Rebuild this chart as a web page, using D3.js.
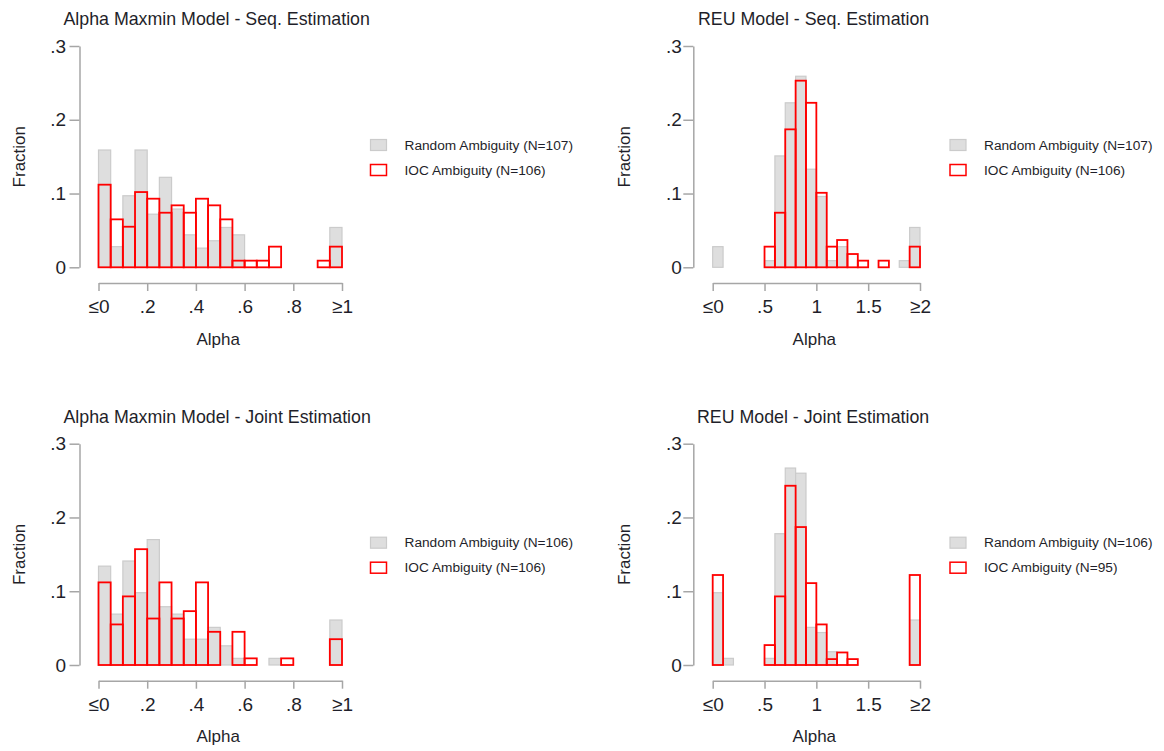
<!DOCTYPE html>
<html>
<head>
<meta charset="utf-8">
<script src="https://cdn.jsdelivr.net/npm/d3@7"></script>
<style>
  body { margin: 0; background: #fff; }
  text { font-family: "Liberation Sans", Arial, sans-serif; fill: #1f1f2a; }
  .axis path, .axis line { stroke: #a6a6a6; stroke-width: 1.5; }
  .axis text { font-size: 19px; }
</style>
</head>
<body>
<div id="chart"></div>
<script>
// bin starts (histogram bins)
var alphaBins = [0, .05, .1, .15, .2, .25, .3, .35, .4, .45, .5, .55, .6, .65, .7, .75, .8, .85, .9, .95];
var reuBins = [0, .1, .2, .3, .4, .5, .6, .7, .8, .9, 1, 1.1, 1.2, 1.3, 1.4, 1.5, 1.6, 1.7, 1.8, 1.9];

// fractions
var seqAlphaRandom = [0.159, 0.028, 0.097, 0.159, 0.072, 0.122, 0.079, 0.044, 0.026, 0.036, 0.054, 0.044, 0, 0, 0, 0, 0, 0, 0, 0.054];
var seqAlphaIoc = [0.112, 0.065, 0.055, 0.102, 0.093, 0.074, 0.084, 0.074, 0.093, 0.084, 0.065, 0.009, 0.009, 0.009, 0.028, 0, 0, 0, 0.009, 0.028];
var seqReuRandom = [0.028, 0, 0, 0, 0, 0.009, 0.151, 0.223, 0.259, 0.133, 0.096, 0.009, 0.028, 0, 0, 0, 0, 0, 0.009, 0.054];
var seqReuIoc = [0, 0, 0, 0, 0, 0.028, 0.074, 0.187, 0.253, 0.223, 0.101, 0.028, 0.037, 0.018, 0.009, 0, 0.009, 0, 0, 0.028];
var jointAlphaRandom = [0.134, 0.069, 0.141, 0.098, 0.170, 0.079, 0.069, 0.035, 0.035, 0.051, 0.026, 0.009, 0, 0, 0.009, 0, 0, 0, 0, 0.061];
var jointAlphaIoc = [0.112, 0.055, 0.093, 0.157, 0.063, 0.112, 0.063, 0.073, 0.112, 0.045, 0, 0.045, 0.009, 0, 0, 0.009, 0, 0, 0, 0.035];
var jointReuRandom = [0.098, 0.009, 0, 0, 0, 0.009, 0.178, 0.267, 0.260, 0.051, 0.044, 0.018, 0, 0, 0, 0, 0, 0, 0, 0.061];
var jointReuIoc = [0.122, 0, 0, 0, 0, 0.027, 0.093, 0.243, 0.187, 0.111, 0.055, 0.008, 0.017, 0.008, 0, 0, 0, 0, 0, 0.122];

// tick labels
var yTicks = [0, .1, .2, .3];
var yTickLabels = ["0", ".1", ".2", ".3"];
var alphaTicks = [0, .2, .4, .6, .8, 1];
var alphaTickLabels = ["≤0", ".2", ".4", ".6", ".8", "≥1"];
var reuTicks = [0, .5, 1, 1.5, 2];
var reuTickLabels = ["≤0", ".5", "1", "1.5", "≥2"];

var titles = ["Alpha Maxmin Model - Seq. Estimation", "REU Model - Seq. Estimation",
              "Alpha Maxmin Model - Joint Estimation", "REU Model - Joint Estimation"];
var randomLabels = ["Random Ambiguity (N=107)", "Random Ambiguity (N=107)", "Random Ambiguity (N=106)", "Random Ambiguity (N=106)"];
var iocLabels = ["IOC Ambiguity (N=106)", "IOC Ambiguity (N=106)", "IOC Ambiguity (N=106)", "IOC Ambiguity (N=95)"];

//Width and height
var w = 1164;
var h = 751;

var svg = d3.select("#chart")
    .append("svg")
    .attr("width", w)
    .attr("height", h);

// panel layout
var panels = [
    {bins: alphaBins, binW: .05, xmax: 1, ticks: alphaTicks, tickLabels: alphaTickLabels, random: seqAlphaRandom, ioc: seqAlphaIoc,
     ax: 79.5, x0: 98.5, x1: 342, dy: 0, titleX: 63.5, fracX: 19.5, legX: 370.5, pad: 3.5},
    {bins: reuBins, binW: .1, xmax: 2, ticks: reuTicks, tickLabels: reuTickLabels, random: seqReuRandom, ioc: seqReuIoc,
     ax: 693.3, x0: 712.7, x1: 920, dy: 0, titleX: 698, fracX: 624.5, legX: 950, pad: 1.5},
    {bins: alphaBins, binW: .05, xmax: 1, ticks: alphaTicks, tickLabels: alphaTickLabels, random: jointAlphaRandom, ioc: jointAlphaIoc,
     ax: 79.5, x0: 98.5, x1: 342, dy: 397.7, titleX: 63.5, fracX: 19.5, legX: 370.5, pad: 3.5},
    {bins: reuBins, binW: .1, xmax: 2, ticks: reuTicks, tickLabels: reuTickLabels, random: jointReuRandom, ioc: jointReuIoc,
     ax: 693.3, x0: 712.7, x1: 920, dy: 397.7, titleX: 697, fracX: 624.5, legX: 950, pad: 1.5}
];

panels.forEach(function(p, k) {
    var g = svg.append("g").attr("transform", "translate(0," + p.dy + ")");

    var x = d3.scaleLinear().domain([0, p.xmax]).range([p.x0, p.x1]);
    var y = d3.scaleLinear().domain([0, .3]).range([267.3, 46]);

    //Random ambiguity bars (gray)
    g.append("g")
        .selectAll("rect")
        .data(p.bins.map((b, i) => ({b: b, v: p.random[i]})).filter(d => d.v > 0))
        .join("rect")
        .attr("x", d => x(d.b))
        .attr("width", d => x(d.b + p.binW) - x(d.b))
        .attr("y", d => y(d.v))
        .attr("height", d => y(0) - y(d.v))
        .attr("fill", "#dedede")
        .attr("stroke", "#cbcbcb")
        .attr("stroke-width", 1.2);

    //IOC ambiguity bars (red outline)
    g.append("g")
        .selectAll("rect")
        .data(p.bins.map((b, i) => ({b: b, v: p.ioc[i]})).filter(d => d.v > 0))
        .join("rect")
        .attr("x", d => x(d.b))
        .attr("width", d => x(d.b + p.binW) - x(d.b))
        .attr("y", d => y(d.v))
        .attr("height", d => y(0) - y(d.v))
        .attr("fill", "none")
        .attr("stroke", "#ff0000")
        .attr("stroke-width", 1.8);

    //y axis
    g.append("g")
        .attr("class", "axis")
        .attr("transform", "translate(" + p.ax + ",0)")
        .call(d3.axisLeft(y)
            .tickValues(yTicks)
            .tickFormat((d, i) => yTickLabels[i])
            .tickSize(10)
            .tickSizeOuter(0)
            .tickPadding(p.pad));

    //x axis
    g.append("g")
        .attr("class", "axis")
        .attr("transform", "translate(0,283)")
        .call(d3.axisBottom(x)
            .tickValues(p.ticks)
            .tickFormat((d, i) => p.tickLabels[i])
            .tickSize(8)
            .tickSizeOuter(0)
            .tickPadding(8.5));

    g.selectAll(".axis .domain").attr("fill", "none");

    //title
    g.append("text")
        .attr("x", p.titleX)
        .attr("y", 25)
        .style("font-size", "17.8px")
        .text(titles[k]);

    //axis labels
    g.append("text")
        .attr("transform", "translate(" + p.fracX + ",156.7) rotate(-90)")
        .attr("text-anchor", "middle")
        .attr("dy", "0.35em")
        .style("font-size", "17px")
        .text("Fraction");

    g.append("text")
        .attr("x", (p.x0 + p.x1) / 2 - 2)
        .attr("y", 344.5)
        .attr("text-anchor", "middle")
        .style("font-size", "17px")
        .text("Alpha");

    //legend
    var legend = g.append("g").attr("transform", "translate(" + p.legX + ",0)");
    legend.append("rect")
        .attr("x", 0).attr("y", 139.5).attr("width", 16).attr("height", 11)
        .attr("fill", "#dedede").attr("stroke", "#cbcbcb").attr("stroke-width", 1.2);
    legend.append("rect")
        .attr("x", 0).attr("y", 164.5).attr("width", 16).attr("height", 11)
        .attr("fill", "#fff").attr("stroke", "#ff0000").attr("stroke-width", 1.5);
    legend.append("text")
        .attr("x", 34).attr("y", 149.5)
        .style("font-size", "13.7px")
        .text(randomLabels[k]);
    legend.append("text")
        .attr("x", 34).attr("y", 174.5)
        .style("font-size", "13.7px")
        .text(iocLabels[k]);
});
</script>
</body>
</html>
